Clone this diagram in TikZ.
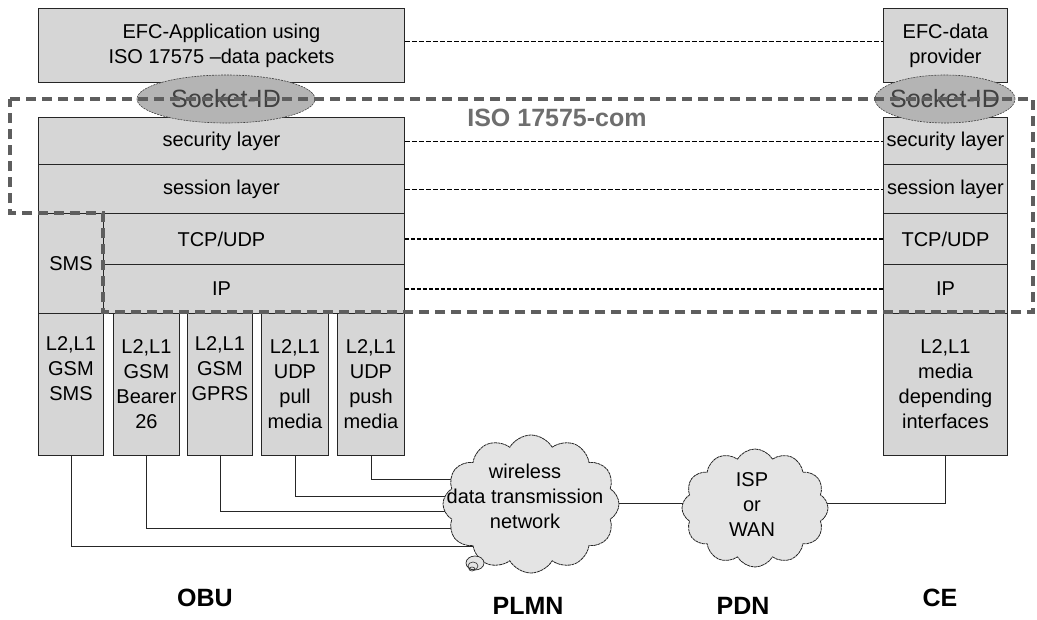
\documentclass[tikz,border=0pt]{standalone}
\usepackage{fontspec}
\setmainfont{Liberation Sans}
\usetikzlibrary{shapes.geometric,shapes.symbols,backgrounds}
\definecolor{boxgray}{HTML}{D6D6D6}
\definecolor{cloudgray}{HTML}{E4E4E4}
\definecolor{sockgray}{HTML}{B4B4B4}
\definecolor{dashgray}{HTML}{5E5E5E}
\definecolor{isogray}{HTML}{6E6E6E}
\begin{document}
\begin{tikzpicture}[x=1pt,y=-1pt,
  box/.style={draw=black!85, fill=boxgray, line width=0.9pt, inner sep=0pt, anchor=north west, align=center, font=\fontsize{20}{25}\selectfont},
  txt/.style={inner sep=0pt, align=center, font=\fontsize{20}{25}\selectfont},
  sock/.style={ellipse, draw=black!75, fill=sockgray, line width=0.6pt, dash pattern=on 2pt off 1pt, inner sep=0pt},
  socktxt/.style={inner sep=0pt, text=black!75, font=\fontsize{25}{30}\selectfont},
  conn/.style={draw=black, line width=0.7pt, dash pattern=on 5pt off 2pt},
  connb/.style={draw=black, line width=1.8pt, dash pattern=on 4pt off 2pt},
  bigdash/.style={draw=dashgray, line width=3.5pt, dash pattern=on 10pt off 6pt},
  wire/.style={draw=black!85, line width=0.9pt},
  cloudsty/.style={cloud, cloud puffs=12, cloud puff arc=120, aspect=1.3, draw=black!85, fill=cloudgray, line width=0.8pt, dash pattern=on 3pt off 0.6pt, inner sep=0pt},
  lbl/.style={inner sep=0pt, font=\bfseries\fontsize{25}{30}\selectfont}]
\useasboundingbox (0,0) rectangle (1037,619);

% OBU stack
\node[box, minimum width=366pt, minimum height=74pt] (app) at (38,8) {EFC-Application using\\ISO 17575 –data packets};
\node[box, minimum width=366pt, minimum height=47pt] (sec) at (38,117) {security layer};
\node[box, minimum width=366pt, minimum height=49pt] (ses) at (38,164) {session layer};
\node[box, minimum width=366pt, minimum height=51pt] (tcp) at (38,213) {TCP/UDP};
\node[box, minimum width=366pt, minimum height=49pt] (ip) at (38,264) {IP};
\node[box, minimum width=65pt, minimum height=100pt] (sms) at (38,213) {SMS};
\node[box, minimum width=65pt, minimum height=142pt] (b1) at (38,313) {L2,L1\\GSM\\SMS\\\strut};
\node[box, minimum width=66pt, minimum height=142pt] (b2) at (113,313) {L2,L1\\GSM\\Bearer\\26};
\node[box, minimum width=65pt, minimum height=142pt] (b3) at (187,313) {L2,L1\\GSM\\GPRS\\\strut};
\node[box, minimum width=67pt, minimum height=142pt] (b4) at (261,313) {L2,L1\\UDP\\pull\\media};
\node[box, minimum width=67pt, minimum height=142pt] (b5) at (337,313) {L2,L1\\UDP\\push\\media};

% CE stack
\node[box, minimum width=124pt, minimum height=74pt] (ceapp) at (883,8) {EFC-data\\provider};
\node[box, minimum width=124pt, minimum height=47pt] (cesec) at (883,117) {security layer};
\node[box, minimum width=124pt, minimum height=49pt] (ceses) at (883,164) {session layer};
\node[box, minimum width=124pt, minimum height=51pt] (cetcp) at (883,213) {TCP/UDP};
\node[box, minimum width=124pt, minimum height=49pt] (ceip) at (883,264) {IP};
\node[box, minimum width=124pt, minimum height=142pt] (ceb) at (883,313) {L2,L1\\media\\depending\\interfaces};

% peer connectors
\draw[conn] ([yshift=4pt]app.east) -- ([yshift=4pt]app.east -| ceapp.west);
\draw[conn] (sec.east) -- (cesec.west);
\draw[conn] (ses.east) -- (ceses.west);
\draw[connb] (tcp.east) -- (cetcp.west);
\draw[connb] (ip.east) -- (ceip.west);

% Socket-ID ellipses
\node[sock, minimum width=178pt, minimum height=48pt] (sockA) at (226,99) {};
\node[socktxt] (sockAt) at (sockA) {Socket-ID};
\node[sock, minimum width=140pt, minimum height=48pt] (sockB) at (945,99) {};
\node[socktxt] (sockBt) at (sockB) {Socket-ID};

% ISO 17575-com frame
\draw[bigdash] (10,99) -- (1033,99) -- (1033,312) -- (103,312) -- (103,213) -- (10,213) -- cycle;
\node[inner sep=0pt, text=isogray, font=\bfseries\fontsize{25}{30}\selectfont] (iso) at (557,118) {ISO 17575-com};

% networks
\node[cloudsty, minimum width=176pt, minimum height=138pt] (plmn) at (531,504) {};
\draw[black!85, fill=cloudgray, line width=0.7pt] (475,563) ellipse [x radius=9pt, y radius=7pt];
\draw[black!85, line width=0.6pt] (473,566) ellipse [x radius=5pt, y radius=4pt];
\draw[black!85, line width=0.6pt] (472,569) ellipse [x radius=3pt, y radius=2pt];
\node[txt] (plmnt) at (525,496) {wireless\\data transmission\\network};
\node[cloudsty, minimum width=146pt, minimum height=118pt] (pdn) at (755,508) {};
\node[txt] (pdnt) at (752,505) {ISP\\or\\WAN};

\begin{scope}[on background layer]
\draw[wire] (b1.south) |- ([yshift=-42pt]plmn.center);
\draw[wire] (b2.south) |- ([yshift=-24pt]plmn.center);
\draw[wire] (b3.south) |- ([yshift=-7pt]plmn.center);
\draw[wire] (b4.south) |- ([yshift=8pt]plmn.center);
\draw[wire] (b5.south) |- ([yshift=25pt]plmn.center);
\draw[wire] ([yshift=1pt]plmn.center) -- ([yshift=1pt]plmn.center -| pdn.center);
\draw[wire] (ceb.south) |- ([yshift=5pt]pdn.center);
\end{scope}

% domain labels
\node[lbl] (obu) at (205,598) {OBU};
\node[lbl] (plmnl) at (528,606) {PLMN};
\node[lbl] (pdnl) at (743,606) {PDN};
\node[lbl] (cel) at (940,598) {CE};
\end{tikzpicture}
\end{document}
